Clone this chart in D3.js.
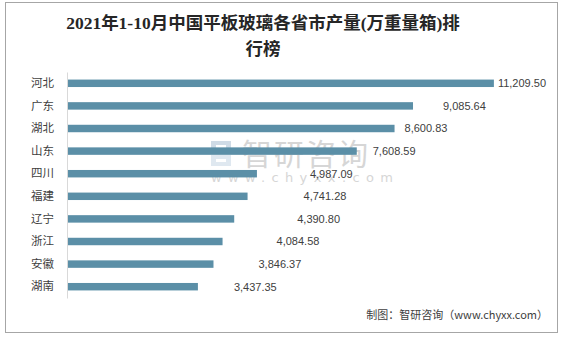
<!DOCTYPE html>
<html>
<head>
<meta charset="utf-8">
<script src="https://cdn.jsdelivr.net/npm/d3@7"></script>
<style>
  html, body { margin: 0; padding: 0; background: #fff; }
  svg { display: block; }
</style>
</head>
<body>
<script>
// Provinces, ordered by output
const categories = ['河北', '广东', '湖北', '山东', '四川', '福建', '辽宁', '浙江', '安徽', '湖南'];
// Output, 10k weight cases
const values = [11209.50, 9085.64, 8600.83, 7608.59, 4987.09, 4741.28, 4390.80, 4084.58, 3846.37, 3437.35];
const titleLines = ['2021年1-10月中国平板玻璃各省市产量(万重量箱)排', '行榜'];
const sourceText = '制图：智研咨询（www.chyxx.com）';

const W = 562, H = 337;
const svg = d3.select('body').append('svg').attr('width', W).attr('height', H);

// outer frame
svg.append('rect')
  .attr('x', 5.5).attr('y', 2.5).attr('width', 552).attr('height', 330)
  .attr('fill', '#fff').attr('stroke', '#a6a6a6').attr('stroke-width', 1);

// title
svg.append('g').selectAll('text').data(titleLines).join('text')
  .attr('x', 263).attr('y', 29 + 0).attr('y', (d, i) => 29 + i * 26)
  .attr('text-anchor', 'middle')
  .attr('font-family', '"Liberation Serif", "Noto Sans CJK SC", serif')
  .attr('font-weight', 'bold')
  .attr('font-size', 17.5)
  .attr('fill', '#262626')
  .text(d => d);

// scales
const x = d3.scaleLinear().domain([0, 12000]).range([67, 524]);
const y = d3.scaleBand().domain(categories).range([72, 298]).paddingInner(0.67).paddingOuter(0.335);

// watermark
const wm = svg.append('g').attr('opacity', 0.55);
wm.append('rect').attr('x', 211).attr('y', 141).attr('width', 20).attr('height', 11).attr('fill', '#a9bfd3');
wm.append('rect').attr('x', 211).attr('y', 155).attr('width', 20).attr('height', 11).attr('fill', '#c5d6e4');
wm.append('rect').attr('x', 216).attr('y', 145).attr('width', 10).attr('height', 3).attr('fill', '#fff');
wm.append('rect').attr('x', 216).attr('y', 159).attr('width', 10).attr('height', 3).attr('fill', '#fff');
wm.append('text').attr('x', 242).attr('y', 165)
  .attr('font-family', '"Noto Sans CJK SC", sans-serif').attr('font-size', 30)
  .attr('fill', '#b5b5b5').attr('letter-spacing', 2).text('智研咨询');
wm.append('text').attr('x', 211).attr('y', 182)
  .attr('font-family', '"DejaVu Sans", sans-serif').attr('font-size', 13)
  .attr('fill', '#b5b5b5').attr('letter-spacing', 6.4).text('www.chyxx.com');

// bars
svg.append('g').selectAll('rect').data(values).join('rect')
  .attr('x', x(0))
  .attr('y', (d, i) => y(categories[i]))
  .attr('width', d => x(d) - x(0))
  .attr('height', y.bandwidth())
  .attr('fill', '#5b8fa7');

// category axis
const yAxis = svg.append('g').attr('transform', `translate(${x(0)},0)`)
  .call(d3.axisLeft(y).tickSize(0).tickPadding(13));
yAxis.select('.domain').attr('stroke', '#d9d9d9');
yAxis.selectAll('text')
  .attr('font-family', '"Noto Sans CJK SC", sans-serif')
  .attr('font-size', 11.5)
  .attr('fill', '#404040');

// value labels, nudged clear of the bars
const labelGap = [4, 30, 10, 16, 53, 56, 63, 54, 45, 36];
svg.append('g').selectAll('text').data(values).join('text')
  .attr('x', (d, i) => x(d) + labelGap[i])
  .attr('y', (d, i) => y(categories[i]) + y.bandwidth() / 2)
  .attr('dy', '0.35em')
  .attr('font-family', '"Liberation Sans", Arial, sans-serif')
  .attr('font-size', 11)
  .attr('fill', '#404040')
  .text(d => d3.format(',.2f')(d));

// source note
svg.append('text')
  .attr('x', 548).attr('y', 319)
  .attr('text-anchor', 'end')
  .attr('font-family', '"Noto Sans CJK SC", sans-serif')
  .attr('font-size', 11)
  .attr('fill', '#404040')
  .text(sourceText);
</script>
</body>
</html>
